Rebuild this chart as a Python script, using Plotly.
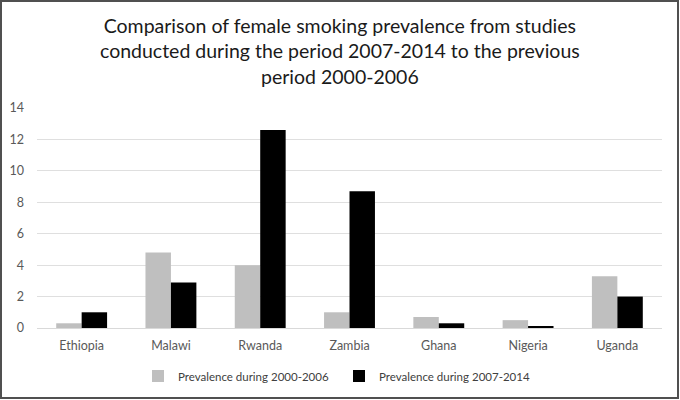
import plotly.graph_objects as go

countries = ["Ethiopia", "Malawi", "Rwanda", "Zambia", "Ghana", "Nigeria", "Uganda"]
prev_2000_2006 = [0.3, 4.8, 4.0, 1.0, 0.7, 0.5, 3.3]
prev_2007_2014 = [1.0, 2.9, 12.6, 8.7, 0.3, 0.1, 2.0]
y_ticks = [0, 2, 4, 6, 8, 10, 12, 14]

FONT = "Lato"

fig = go.Figure()
fig.add_trace(go.Bar(x=countries, y=prev_2000_2006, name="Prevalence during 2000-2006",
                     marker=dict(color="#bfbfbf", line=dict(width=0))))
fig.add_trace(go.Bar(x=countries, y=prev_2007_2014, name="Prevalence during 2007-2014",
                     marker=dict(color="#000000", line=dict(width=0))))

W, H = 680, 400
ml, mr, mt, mb = 37, 18, 108, 72
pw, ph = W - ml - mr, H - mt - mb

def px_to_paper_x(px):
    return (px - ml) / pw

def px_to_paper_y(py):
    return (H - mb - py) / ph

fig.update_layout(
    width=W, height=H,
    margin=dict(l=ml, r=mr, t=mt, b=mb, autoexpand=False),
    paper_bgcolor="white", plot_bgcolor="white",
    barmode="group", bargap=0.43, bargroupgap=0,
    font=dict(family=FONT, color="#595959", size=12),
    xaxis=dict(showgrid=False, showline=True, linecolor="#d9d9d9", linewidth=1,
               ticks="", ticklabelstandoff=6, tickfont=dict(size=12.5, color="#595959"), fixedrange=True),
    yaxis=dict(range=[0, 14], tickvals=y_ticks, showgrid=True, gridcolor="#dfdfdf", gridwidth=1,
               zeroline=False, showline=False, ticks="", ticklabelstandoff=12,
               tickfont=dict(size=12.5, color="#595959"), fixedrange=True),
    legend=dict(orientation="h", x=px_to_paper_x(138), xanchor="left",
                yref="container", y=(H - 376) / H, yanchor="middle",
                font=dict(size=11.5, color="#404040"), traceorder="normal",
                itemwidth=30, entrywidth=156, entrywidthmode="pixels", bgcolor="rgba(0,0,0,0)"),
    annotations=[dict(text="Comparison of female smoking prevalence from studies<br>conducted during the period 2007-2014 to the previous<br>period 2000-2006",
                      xref="paper", yref="paper", x=px_to_paper_x(340), y=px_to_paper_y(12),
                      xanchor="center", yanchor="top", showarrow=False, align="center",
                      font=dict(family=FONT, size=19.5, color="#1a1a1a"))],
    shapes=[dict(type="rect", xref="paper", yref="paper",
                 x0=px_to_paper_x(1), x1=px_to_paper_x(678), y0=px_to_paper_y(398), y1=px_to_paper_y(1),
                 line=dict(color="#505050", width=2), fillcolor="rgba(0,0,0,0)", layer="above")],
    showlegend=True,
)

fig.write_html("out.html", config={"displayModeBar": False},
               post_script="document.body.style.margin='0';document.body.style.overflow='hidden';")
